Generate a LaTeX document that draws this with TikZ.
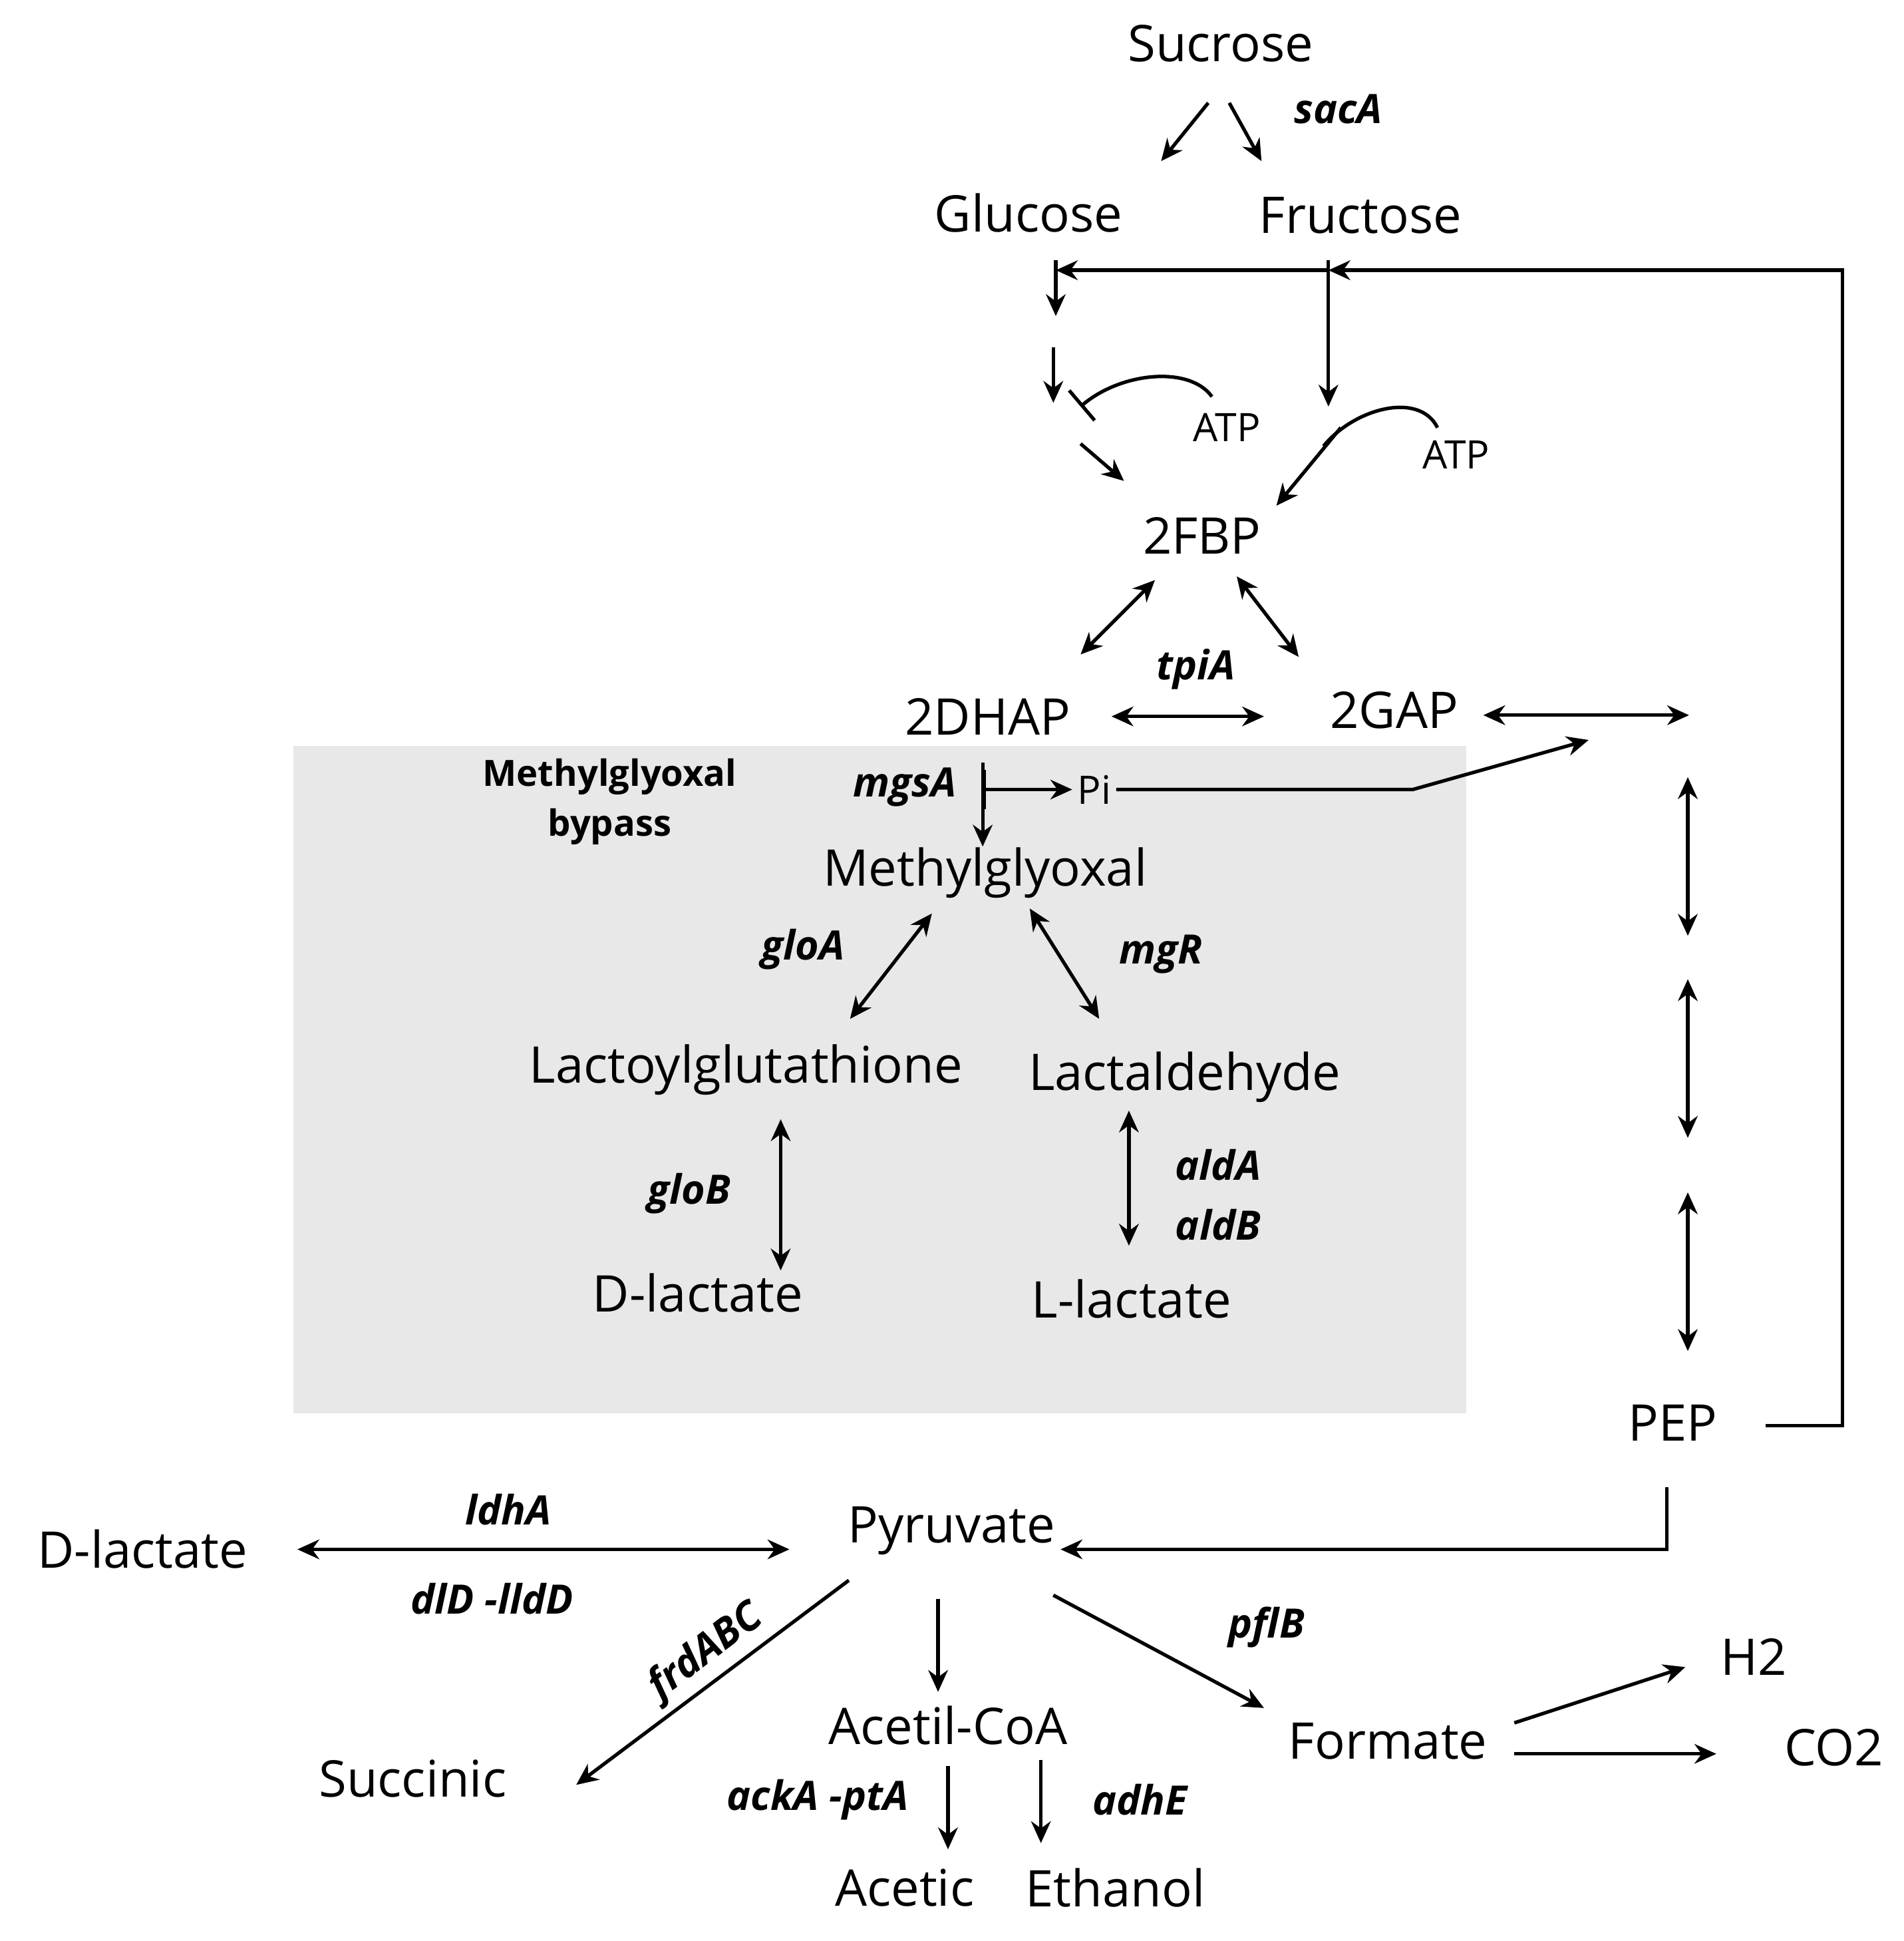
\documentclass[tikz,border=0pt]{standalone}
\usepackage{fontspec}
\setmainfont{Open Sans}
\usetikzlibrary{arrows.meta}
\begin{document}
\begin{tikzpicture}[x=0.01cm,y=-0.01cm,
  met/.style={inner sep=1pt,font=\fontsize{11.6}{13}\selectfont},
  gene/.style={inner sep=1pt,font=\fontsize{9.3}{11}\selectfont\bfseries\itshape},
  small/.style={inner sep=1pt,font=\fontsize{9}{11}\selectfont},
  rx/.style={line width=0.8pt,-{Stealth[length=5pt,width=4.5pt]}},
  rev/.style={line width=0.8pt,{Stealth[length=5pt,width=4.5pt]}-{Stealth[length=5pt,width=4.5pt]}}]
\useasboundingbox (0,0) rectangle (1536,1566);
% methylglyoxal bypass box
\fill[black!9] (237,602) rectangle (1183,1140);
\node[small,font=\fontsize{8.3}{11.5}\selectfont\bfseries,align=center] (bypass) at (492,647) {Methylglyoxal\\bypass};
% metabolites
\node[met] (suc) at (985,35) {Sucrose};
\node[met] (glc) at (830,172) {Glucose};
\node[met] (fru) at (1098,174) {Fructose};
\node[met] (fbp) at (970,432) {2FBP};
\node[met] (dhap) at (797,578) {2DHAP};
\node[met] (gap) at (1125,573) {2GAP};
\node[small] (pi) at (883,637) {Pi};
\node[met] (mg) at (795,704) {Methylglyoxal};
\node[met] (lgt) at (602,863) {Lactoylglutathione};
\node[met] (lal) at (956,869) {Lactaldehyde};
\node[met] (dlac) at (563,1043) {D-lactate};
\node[met] (llac) at (913,1048) {L-lactate};
\node[met] (pep) at (1350,1148) {PEP};
\node[met] (pyr) at (768,1235) {Pyruvate};
\node[met] (dlac2) at (115,1250) {D-lactate};
\node[met] (succ) at (333,1435) {Succinic};
\node[met] (acoa) at (765,1392) {Acetil-CoA};
\node[met] (form) at (1120,1405) {Formate};
\node[met] (h2) at (1415,1337) {H2};
\node[met] (co2) at (1480,1410) {CO2};
\node[met] (acet) at (730,1523) {Acetic};
\node[met] (eth) at (900,1523) {Ethanol};
\node[small] (atp1) at (990,345) {ATP};
\node[small] (atp2) at (1175,367) {ATP};
% genes
\node[gene] (sacA) at (1080,88) {sacA};
\node[gene] (tpiA) at (965,540) {tpiA};
\node[gene] (mgsA) at (730,635) {mgsA};
\node[gene] (gloA) at (648,766) {gloA};
\node[gene] (mgR) at (937,770) {mgR};
\node[gene] (gloB) at (556,963) {gloB};
\node[gene] (aldA) at (983,940) {aldA};
\node[gene] (aldB) at (983,988) {aldB};
\node[gene] (ldhA) at (410,1218) {ldhA};
\node[gene] (dld) at (397,1290) {dlD -lldD};
\node[gene,rotate=37] (frd) at (570,1333) {frdABC};
\node[gene] (pflB) at (1022,1313) {pflB};
\node[gene] (ack) at (660,1452) {ackA -ptA};
\node[gene] (adhE) at (920,1452) {adhE};
% upper glycolysis
\draw[rx] (975,83) -- (937,130);
\draw[rx] (992,83) -- (1018,130);
\draw[rx] (1425,1150) -- (1487,1150) -- (1487,218) -- (1072,218);
\draw[rx] (1072,218) -- (852,218);
\draw[rx] (852,210) -- (852,255);
\draw[rx] (850,280) -- (850,325);
\draw[rx] (1072,210) -- (1072,328);
\draw[line width=0.8pt,-{Bar[width=9pt]}] (978,320) .. controls (960,295) and (905,300) .. (872,328);
\draw[rx] (872,358) -- (907,388);
\draw[line width=0.8pt] (1160,345) .. controls (1145,315) and (1092,330) .. (1068,360);
\draw[rx] (1082,345) -- (1030,408);
\draw[rev] (932,468) -- (872,528);
\draw[rev] (998,465) -- (1048,530);
\draw[rev] (897,578) -- (1020,578);
\draw[rev] (1197,577) -- (1363,577);
% methylglyoxal bypass
\draw[rx] (793,615) -- (793,683);
\draw[line width=0.8pt,{Bar[width=9pt]}-{Stealth[length=5pt,width=4.5pt]}] (793,637) -- (pi.west);
\draw[rx] (pi.east) -- (1140,637) -- (1282,597);
\draw[rev] (752,737) -- (686,822);
\draw[rev] (831,733) -- (887,822);
\draw[rev] (630,903) -- (630,1025);
\draw[rev] (911,896) -- (911,1005);
% lower glycolysis
\draw[rev] (1362,627) -- (1362,755);
\draw[rev] (1362,790) -- (1362,918);
\draw[rev] (1362,962) -- (1362,1090);
\draw[rx] (1345,1200) -- (1345,1250) -- (pyr.east |- 0,1250);
% fermentation
\draw[rev] (240,1250) -- (637,1250);
\draw[rx] (685,1275) -- (465,1440);
\draw[rx] (757,1290) -- (757,1365);
\draw[rx] (850,1287) -- (1020,1378);
\draw[rx] (1222,1390) -- (1360,1345);
\draw[rx] (1222,1415) -- (1385,1415);
\draw[rx] (765,1425) -- (765,1492);
\draw[rx] (840,1420) -- (840,1487);
\end{tikzpicture}
\end{document}
